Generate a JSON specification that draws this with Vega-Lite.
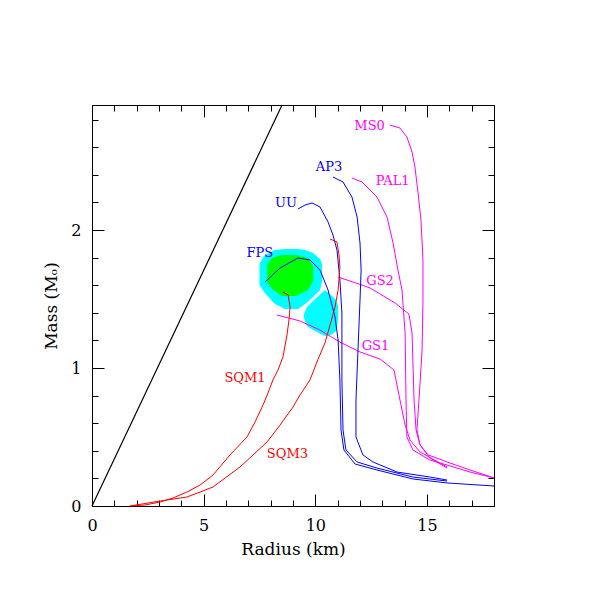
{
  "$schema": "https://vega.github.io/schema/vega-lite/v6.json",
  "width": 402,
  "height": 401,
  "autosize": {"type": "none"},
  "padding": {"left": 92, "top": 105, "right": 104, "bottom": 92},
  "background": "white",
  "config": {
    "view": {"stroke": "black", "strokeWidth": 1},
    "axis": {
      "grid": false, "domain": false,
      "labelFont": "DejaVu Serif", "titleFont": "DejaVu Serif",
      "labelFontSize": 16, "titleFontSize": 17, "titleFontWeight": "normal",
      "labelColor": "black", "titleColor": "black", "tickColor": "black", "tickWidth": 1,
      "labelFlush": false, "labelOverlap": false
    }
  },
  "datasets": {
    "outer": [
      {"part": "a", "r": 7.50, "hi": 1.754, "lo": 1.601},
      {"part": "a", "r": 7.70, "hi": 1.812, "lo": 1.551},
      {"part": "a", "r": 8.19, "hi": 1.855, "lo": 1.464},
      {"part": "a", "r": 8.64, "hi": 1.862, "lo": 1.428},
      {"part": "a", "r": 9.22, "hi": 1.862, "lo": 1.428},
      {"part": "a", "r": 9.54, "hi": 1.855, "lo": 1.464},
      {"part": "a", "r": 9.90, "hi": 1.833, "lo": 1.514},
      {"part": "a", "r": 10.21, "hi": 1.790, "lo": 1.565},
      {"part": "a", "r": 10.30, "hi": 1.754, "lo": 1.623},
      {"part": "b", "r": 9.49, "hi": 1.391, "lo": 1.362},
      {"part": "b", "r": 9.63, "hi": 1.442, "lo": 1.304},
      {"part": "b", "r": 9.90, "hi": 1.486, "lo": 1.275},
      {"part": "b", "r": 10.43, "hi": 1.565, "lo": 1.232},
      {"part": "b", "r": 10.70, "hi": 1.529, "lo": 1.239},
      {"part": "b", "r": 10.93, "hi": 1.493, "lo": 1.268},
      {"part": "b", "r": 11.02, "hi": 1.449, "lo": 1.348}
    ],
    "inner": [
      {"r": 7.84, "hi": 1.746, "lo": 1.623},
      {"r": 8.06, "hi": 1.797, "lo": 1.572},
      {"r": 8.51, "hi": 1.819, "lo": 1.522},
      {"r": 9.13, "hi": 1.819, "lo": 1.522},
      {"r": 9.67, "hi": 1.797, "lo": 1.565},
      {"r": 9.90, "hi": 1.739, "lo": 1.630}
    ],
    "limit": [
      {"r": 0, "m": 0},
      {"r": 8.51, "m": 2.906}
    ],
    "curves": [
      {"eos": "MS0", "cat": "exotic", "i": 0, "r": 13.34, "m": 2.761},
      {"eos": "MS0", "cat": "exotic", "i": 1, "r": 13.79, "m": 2.739},
      {"eos": "MS0", "cat": "exotic", "i": 2, "r": 14.10, "m": 2.674},
      {"eos": "MS0", "cat": "exotic", "i": 3, "r": 14.33, "m": 2.565},
      {"eos": "MS0", "cat": "exotic", "i": 4, "r": 14.46, "m": 2.457},
      {"eos": "MS0", "cat": "exotic", "i": 5, "r": 14.60, "m": 2.268},
      {"eos": "MS0", "cat": "exotic", "i": 6, "r": 14.73, "m": 2.072},
      {"eos": "MS0", "cat": "exotic", "i": 7, "r": 14.82, "m": 1.783},
      {"eos": "MS0", "cat": "exotic", "i": 8, "r": 14.82, "m": 1.493},
      {"eos": "MS0", "cat": "exotic", "i": 9, "r": 14.78, "m": 1.130},
      {"eos": "MS0", "cat": "exotic", "i": 10, "r": 14.64, "m": 0.768},
      {"eos": "MS0", "cat": "exotic", "i": 11, "r": 14.55, "m": 0.551},
      {"eos": "MS0", "cat": "exotic", "i": 12, "r": 14.69, "m": 0.442},
      {"eos": "MS0", "cat": "exotic", "i": 13, "r": 15.05, "m": 0.370},
      {"eos": "MS0", "cat": "exotic", "i": 14, "r": 15.90, "m": 0.319},
      {"eos": "MS0", "cat": "exotic", "i": 15, "r": 16.93, "m": 0.261},
      {"eos": "MS0", "cat": "exotic", "i": 16, "r": 18.0, "m": 0.203},

      {"eos": "PAL1", "cat": "exotic", "i": 0, "r": 11.64, "m": 2.377},
      {"eos": "PAL1", "cat": "exotic", "i": 1, "r": 12.09, "m": 2.348},
      {"eos": "PAL1", "cat": "exotic", "i": 2, "r": 12.76, "m": 2.239},
      {"eos": "PAL1", "cat": "exotic", "i": 3, "r": 13.21, "m": 2.094},
      {"eos": "PAL1", "cat": "exotic", "i": 4, "r": 13.48, "m": 1.906},
      {"eos": "PAL1", "cat": "exotic", "i": 5, "r": 13.70, "m": 1.710},
      {"eos": "PAL1", "cat": "exotic", "i": 6, "r": 13.88, "m": 1.565},
      {"eos": "PAL1", "cat": "exotic", "i": 7, "r": 14.02, "m": 1.254},
      {"eos": "PAL1", "cat": "exotic", "i": 8, "r": 14.06, "m": 0.768},
      {"eos": "PAL1", "cat": "exotic", "i": 9, "r": 14.10, "m": 0.500},
      {"eos": "PAL1", "cat": "exotic", "i": 10, "r": 14.37, "m": 0.406},
      {"eos": "PAL1", "cat": "exotic", "i": 11, "r": 15.13, "m": 0.333},
      {"eos": "PAL1", "cat": "exotic", "i": 12, "r": 15.90, "m": 0.297},
      {"eos": "PAL1", "cat": "exotic", "i": 13, "r": 16.93, "m": 0.246},
      {"eos": "PAL1", "cat": "exotic", "i": 14, "r": 18.0, "m": 0.203},

      {"eos": "GS2", "cat": "exotic", "i": 0, "r": 11.02, "m": 1.659},
      {"eos": "GS2", "cat": "exotic", "i": 1, "r": 12.09, "m": 1.601},
      {"eos": "GS2", "cat": "exotic", "i": 2, "r": 12.45, "m": 1.580},
      {"eos": "GS2", "cat": "exotic", "i": 3, "r": 13.57, "m": 1.471},
      {"eos": "GS2", "cat": "exotic", "i": 4, "r": 14.19, "m": 1.391},
      {"eos": "GS2", "cat": "exotic", "i": 5, "r": 14.33, "m": 1.254},
      {"eos": "GS2", "cat": "exotic", "i": 6, "r": 14.42, "m": 0.768},
      {"eos": "GS2", "cat": "exotic", "i": 7, "r": 14.51, "m": 0.551},
      {"eos": "GS2", "cat": "exotic", "i": 8, "r": 14.69, "m": 0.442},
      {"eos": "GS2", "cat": "exotic", "i": 9, "r": 15.13, "m": 0.348},
      {"eos": "GS2", "cat": "exotic", "i": 10, "r": 15.90, "m": 0.275},

      {"eos": "GS1", "cat": "exotic", "i": 0, "r": 8.28, "m": 1.384},
      {"eos": "GS1", "cat": "exotic", "i": 1, "r": 9.31, "m": 1.341},
      {"eos": "GS1", "cat": "exotic", "i": 2, "r": 10.21, "m": 1.275},
      {"eos": "GS1", "cat": "exotic", "i": 3, "r": 11.10, "m": 1.188},
      {"eos": "GS1", "cat": "exotic", "i": 4, "r": 12.00, "m": 1.116},
      {"eos": "GS1", "cat": "exotic", "i": 5, "r": 12.90, "m": 1.065},
      {"eos": "GS1", "cat": "exotic", "i": 6, "r": 13.52, "m": 0.986},
      {"eos": "GS1", "cat": "exotic", "i": 7, "r": 13.79, "m": 0.768},
      {"eos": "GS1", "cat": "exotic", "i": 8, "r": 14.02, "m": 0.587},
      {"eos": "GS1", "cat": "exotic", "i": 9, "r": 14.24, "m": 0.478},
      {"eos": "GS1", "cat": "exotic", "i": 10, "r": 14.69, "m": 0.391},
      {"eos": "GS1", "cat": "exotic", "i": 11, "r": 15.90, "m": 0.283},

      {"eos": "UU", "cat": "nucleonic", "i": 0, "r": 9.22, "m": 2.152},
      {"eos": "UU", "cat": "nucleonic", "i": 1, "r": 9.54, "m": 2.181},
      {"eos": "UU", "cat": "nucleonic", "i": 2, "r": 9.85, "m": 2.196},
      {"eos": "UU", "cat": "nucleonic", "i": 3, "r": 10.21, "m": 2.167},
      {"eos": "UU", "cat": "nucleonic", "i": 4, "r": 10.57, "m": 2.058},
      {"eos": "UU", "cat": "nucleonic", "i": 5, "r": 10.79, "m": 1.964},
      {"eos": "UU", "cat": "nucleonic", "i": 6, "r": 10.97, "m": 1.855},
      {"eos": "UU", "cat": "nucleonic", "i": 7, "r": 11.10, "m": 1.638},
      {"eos": "UU", "cat": "nucleonic", "i": 8, "r": 11.19, "m": 1.399},
      {"eos": "UU", "cat": "nucleonic", "i": 9, "r": 11.19, "m": 0.913},
      {"eos": "UU", "cat": "nucleonic", "i": 10, "r": 11.24, "m": 0.551},
      {"eos": "UU", "cat": "nucleonic", "i": 11, "r": 11.37, "m": 0.406},
      {"eos": "UU", "cat": "nucleonic", "i": 12, "r": 11.87, "m": 0.319},
      {"eos": "UU", "cat": "nucleonic", "i": 13, "r": 12.76, "m": 0.275},
      {"eos": "UU", "cat": "nucleonic", "i": 14, "r": 14.37, "m": 0.210},
      {"eos": "UU", "cat": "nucleonic", "i": 15, "r": 15.90, "m": 0.181},

      {"eos": "FPS", "cat": "nucleonic", "i": 0, "r": 7.75, "m": 1.623},
      {"eos": "FPS", "cat": "nucleonic", "i": 1, "r": 8.42, "m": 1.725},
      {"eos": "FPS", "cat": "nucleonic", "i": 2, "r": 9.22, "m": 1.797},
      {"eos": "FPS", "cat": "nucleonic", "i": 3, "r": 9.76, "m": 1.783},
      {"eos": "FPS", "cat": "nucleonic", "i": 4, "r": 10.21, "m": 1.710},
      {"eos": "FPS", "cat": "nucleonic", "i": 5, "r": 10.57, "m": 1.565},
      {"eos": "FPS", "cat": "nucleonic", "i": 6, "r": 10.88, "m": 1.370},
      {"eos": "FPS", "cat": "nucleonic", "i": 7, "r": 11.02, "m": 1.203},
      {"eos": "FPS", "cat": "nucleonic", "i": 8, "r": 11.10, "m": 0.913},
      {"eos": "FPS", "cat": "nucleonic", "i": 9, "r": 11.15, "m": 0.551},
      {"eos": "FPS", "cat": "nucleonic", "i": 10, "r": 11.28, "m": 0.406},
      {"eos": "FPS", "cat": "nucleonic", "i": 11, "r": 11.78, "m": 0.304},
      {"eos": "FPS", "cat": "nucleonic", "i": 12, "r": 12.76, "m": 0.261},
      {"eos": "FPS", "cat": "nucleonic", "i": 13, "r": 14.37, "m": 0.196},
      {"eos": "FPS", "cat": "nucleonic", "i": 14, "r": 15.90, "m": 0.167},
      {"eos": "FPS", "cat": "nucleonic", "i": 15, "r": 18.0, "m": 0.145},

      {"eos": "AP3", "cat": "nucleonic", "i": 0, "r": 10.79, "m": 2.384},
      {"eos": "AP3", "cat": "nucleonic", "i": 1, "r": 11.24, "m": 2.348},
      {"eos": "AP3", "cat": "nucleonic", "i": 2, "r": 11.64, "m": 2.239},
      {"eos": "AP3", "cat": "nucleonic", "i": 3, "r": 11.87, "m": 2.094},
      {"eos": "AP3", "cat": "nucleonic", "i": 4, "r": 12.00, "m": 1.906},
      {"eos": "AP3", "cat": "nucleonic", "i": 5, "r": 12.05, "m": 1.710},
      {"eos": "AP3", "cat": "nucleonic", "i": 6, "r": 12.00, "m": 1.493},
      {"eos": "AP3", "cat": "nucleonic", "i": 7, "r": 11.91, "m": 1.130},
      {"eos": "AP3", "cat": "nucleonic", "i": 8, "r": 11.82, "m": 0.768},
      {"eos": "AP3", "cat": "nucleonic", "i": 9, "r": 11.82, "m": 0.500},
      {"eos": "AP3", "cat": "nucleonic", "i": 10, "r": 12.13, "m": 0.370},
      {"eos": "AP3", "cat": "nucleonic", "i": 11, "r": 12.58, "m": 0.319},
      {"eos": "AP3", "cat": "nucleonic", "i": 12, "r": 13.66, "m": 0.246},
      {"eos": "AP3", "cat": "nucleonic", "i": 13, "r": 15.13, "m": 0.210},
      {"eos": "AP3", "cat": "nucleonic", "i": 14, "r": 15.90, "m": 0.188},

      {"eos": "SQM1", "cat": "quark", "i": 0, "r": 8.55, "m": 1.551},
      {"eos": "SQM1", "cat": "quark", "i": 1, "r": 8.78, "m": 1.529},
      {"eos": "SQM1", "cat": "quark", "i": 2, "r": 8.87, "m": 1.442},
      {"eos": "SQM1", "cat": "quark", "i": 3, "r": 8.82, "m": 1.348},
      {"eos": "SQM1", "cat": "quark", "i": 4, "r": 8.73, "m": 1.239},
      {"eos": "SQM1", "cat": "quark", "i": 5, "r": 8.55, "m": 1.080},
      {"eos": "SQM1", "cat": "quark", "i": 6, "r": 8.33, "m": 0.986},
      {"eos": "SQM1", "cat": "quark", "i": 7, "r": 8.10, "m": 0.913},
      {"eos": "SQM1", "cat": "quark", "i": 8, "r": 7.88, "m": 0.819},
      {"eos": "SQM1", "cat": "quark", "i": 9, "r": 7.66, "m": 0.732},
      {"eos": "SQM1", "cat": "quark", "i": 10, "r": 7.30, "m": 0.609},
      {"eos": "SQM1", "cat": "quark", "i": 11, "r": 6.94, "m": 0.500},
      {"eos": "SQM1", "cat": "quark", "i": 12, "r": 6.18, "m": 0.370},
      {"eos": "SQM1", "cat": "quark", "i": 13, "r": 5.42, "m": 0.225},
      {"eos": "SQM1", "cat": "quark", "i": 14, "r": 4.84, "m": 0.152},
      {"eos": "SQM1", "cat": "quark", "i": 15, "r": 4.25, "m": 0.101},
      {"eos": "SQM1", "cat": "quark", "i": 16, "r": 3.63, "m": 0.058},
      {"eos": "SQM1", "cat": "quark", "i": 17, "r": 3.05, "m": 0.029},
      {"eos": "SQM1", "cat": "quark", "i": 18, "r": 2.37, "m": 0.007},
      {"eos": "SQM1", "cat": "quark", "i": 19, "r": 1.70, "m": 0},

      {"eos": "SQM3", "cat": "quark", "i": 0, "r": 10.66, "m": 1.935},
      {"eos": "SQM3", "cat": "quark", "i": 1, "r": 10.97, "m": 1.913},
      {"eos": "SQM3", "cat": "quark", "i": 2, "r": 11.06, "m": 1.819},
      {"eos": "SQM3", "cat": "quark", "i": 3, "r": 11.10, "m": 1.732},
      {"eos": "SQM3", "cat": "quark", "i": 4, "r": 11.02, "m": 1.565},
      {"eos": "SQM3", "cat": "quark", "i": 5, "r": 10.88, "m": 1.442},
      {"eos": "SQM3", "cat": "quark", "i": 6, "r": 10.66, "m": 1.312},
      {"eos": "SQM3", "cat": "quark", "i": 7, "r": 10.43, "m": 1.181},
      {"eos": "SQM3", "cat": "quark", "i": 8, "r": 10.07, "m": 1.043},
      {"eos": "SQM3", "cat": "quark", "i": 9, "r": 9.76, "m": 0.913},
      {"eos": "SQM3", "cat": "quark", "i": 10, "r": 9.31, "m": 0.804},
      {"eos": "SQM3", "cat": "quark", "i": 11, "r": 9.00, "m": 0.717},
      {"eos": "SQM3", "cat": "quark", "i": 12, "r": 8.42, "m": 0.587},
      {"eos": "SQM3", "cat": "quark", "i": 13, "r": 7.84, "m": 0.464},
      {"eos": "SQM3", "cat": "quark", "i": 14, "r": 7.21, "m": 0.370},
      {"eos": "SQM3", "cat": "quark", "i": 15, "r": 6.63, "m": 0.283},
      {"eos": "SQM3", "cat": "quark", "i": 16, "r": 5.96, "m": 0.203},
      {"eos": "SQM3", "cat": "quark", "i": 17, "r": 5.42, "m": 0.138},
      {"eos": "SQM3", "cat": "quark", "i": 18, "r": 4.84, "m": 0.101},
      {"eos": "SQM3", "cat": "quark", "i": 19, "r": 4.25, "m": 0.065},
      {"eos": "SQM3", "cat": "quark", "i": 20, "r": 3.05, "m": 0.036},
      {"eos": "SQM3", "cat": "quark", "i": 21, "r": 1.70, "m": 0}
    ],
    "labels": [
      {"eos": "MS0", "cat": "exotic", "r": 12.43, "m": 2.754},
      {"eos": "PAL1", "cat": "exotic", "r": 13.46, "m": 2.355},
      {"eos": "AP3", "cat": "nucleonic", "r": 10.61, "m": 2.457},
      {"eos": "UU", "cat": "nucleonic", "r": 8.69, "m": 2.196},
      {"eos": "FPS", "cat": "nucleonic", "r": 7.52, "m": 1.833},
      {"eos": "GS2", "cat": "exotic", "r": 12.90, "m": 1.630},
      {"eos": "GS1", "cat": "exotic", "r": 12.69, "m": 1.156},
      {"eos": "SQM1", "cat": "quark", "r": 6.85, "m": 0.931},
      {"eos": "SQM3", "cat": "quark", "r": 8.75, "m": 0.377}
    ]
  },
  "layer": [
    {
      "data": {"name": "outer"},
      "mark": {"type": "area", "color": "#00ffff", "opacity": 1},
      "encoding": {
        "x": {"field": "r", "type": "quantitative", "scale": {"domain": [0, 18], "nice": false, "zero": false},
              "axis": {"orient": "bottom", "values": [0, 5, 10, 15], "ticks": false, "labelPadding": 11, "title": "Radius (km)", "titlePadding": 8}},
        "y": {"field": "hi", "type": "quantitative", "scale": {"domain": [0, 2.906], "nice": false, "zero": false},
              "axis": {"orient": "left", "values": [0, 1, 2], "ticks": false, "labelPadding": 11, "title": "Mass (Mₒ)", "titlePadding": 10}},
        "y2": {"field": "lo"},
        "detail": {"field": "part"}
      }
    },
    {
      "data": {"name": "inner"},
      "mark": {"type": "area", "color": "#00ff00", "opacity": 1},
      "encoding": {
        "x": {"field": "r", "type": "quantitative", "scale": {"domain": [0, 18], "nice": false, "zero": false},
              "axis": {"orient": "bottom", "values": [0, 5, 10, 15], "labels": false, "tickSize": -12, "title": null}},
        "y": {"field": "hi", "type": "quantitative", "scale": {"domain": [0, 2.906], "nice": false, "zero": false},
              "axis": {"orient": "left", "values": [0, 1, 2], "labels": false, "tickSize": -12, "title": null}},
        "y2": {"field": "lo"}
      }
    },
    {
      "data": {"name": "limit"},
      "mark": {"type": "line", "color": "black", "strokeWidth": 1.2},
      "encoding": {
        "x": {"field": "r", "type": "quantitative", "scale": {"domain": [0, 18], "nice": false, "zero": false},
              "axis": {"orient": "bottom", "values": [0,1,2,3,4,5,6,7,8,9,10,11,12,13,14,15,16,17,18], "labels": false, "tickSize": -6, "title": null}},
        "y": {"field": "m", "type": "quantitative", "scale": {"domain": [0, 2.906], "nice": false, "zero": false},
              "axis": {"orient": "left", "values": [0,0.2,0.4,0.6,0.8,1,1.2,1.4,1.6,1.8,2,2.2,2.4,2.6,2.8], "labels": false, "tickSize": -6, "title": null}}
      }
    },
    {
      "data": {"name": "curves"},
      "mark": {"type": "line", "strokeWidth": 1},
      "encoding": {
        "x": {"field": "r", "type": "quantitative", "scale": {"domain": [0, 18], "nice": false, "zero": false},
              "axis": {"orient": "top", "values": [0, 5, 10, 15], "labels": false, "tickSize": -12, "title": null}},
        "y": {"field": "m", "type": "quantitative", "scale": {"domain": [0, 2.906], "nice": false, "zero": false},
              "axis": {"orient": "right", "values": [0, 1, 2], "labels": false, "tickSize": -12, "title": null}},
        "color": {"field": "cat", "type": "nominal", "scale": {"domain": ["nucleonic", "exotic", "quark"], "range": ["#0000ff", "#ff00ff", "#ff0000"]}, "legend": null},
        "detail": {"field": "eos"},
        "order": {"field": "i", "type": "quantitative"}
      }
    },
    {
      "data": {"name": "labels"},
      "mark": {"type": "text", "font": "DejaVu Serif", "fontSize": 13, "align": "center", "baseline": "middle"},
      "encoding": {
        "x": {"field": "r", "type": "quantitative", "scale": {"domain": [0, 18], "nice": false, "zero": false},
              "axis": {"orient": "top", "values": [0,1,2,3,4,5,6,7,8,9,10,11,12,13,14,15,16,17,18], "labels": false, "tickSize": -6, "title": null}},
        "y": {"field": "m", "type": "quantitative", "scale": {"domain": [0, 2.906], "nice": false, "zero": false},
              "axis": {"orient": "right", "values": [0,0.2,0.4,0.6,0.8,1,1.2,1.4,1.6,1.8,2,2.2,2.4,2.6,2.8], "labels": false, "tickSize": -6, "title": null}},
        "text": {"field": "eos"},
        "color": {"field": "cat", "type": "nominal", "scale": {"domain": ["nucleonic", "exotic", "quark"], "range": ["#0000ff", "#ff00ff", "#ff0000"]}, "legend": null}
      }
    }
  ],
  "resolve": {"axis": {"x": "independent", "y": "independent"}}
}
